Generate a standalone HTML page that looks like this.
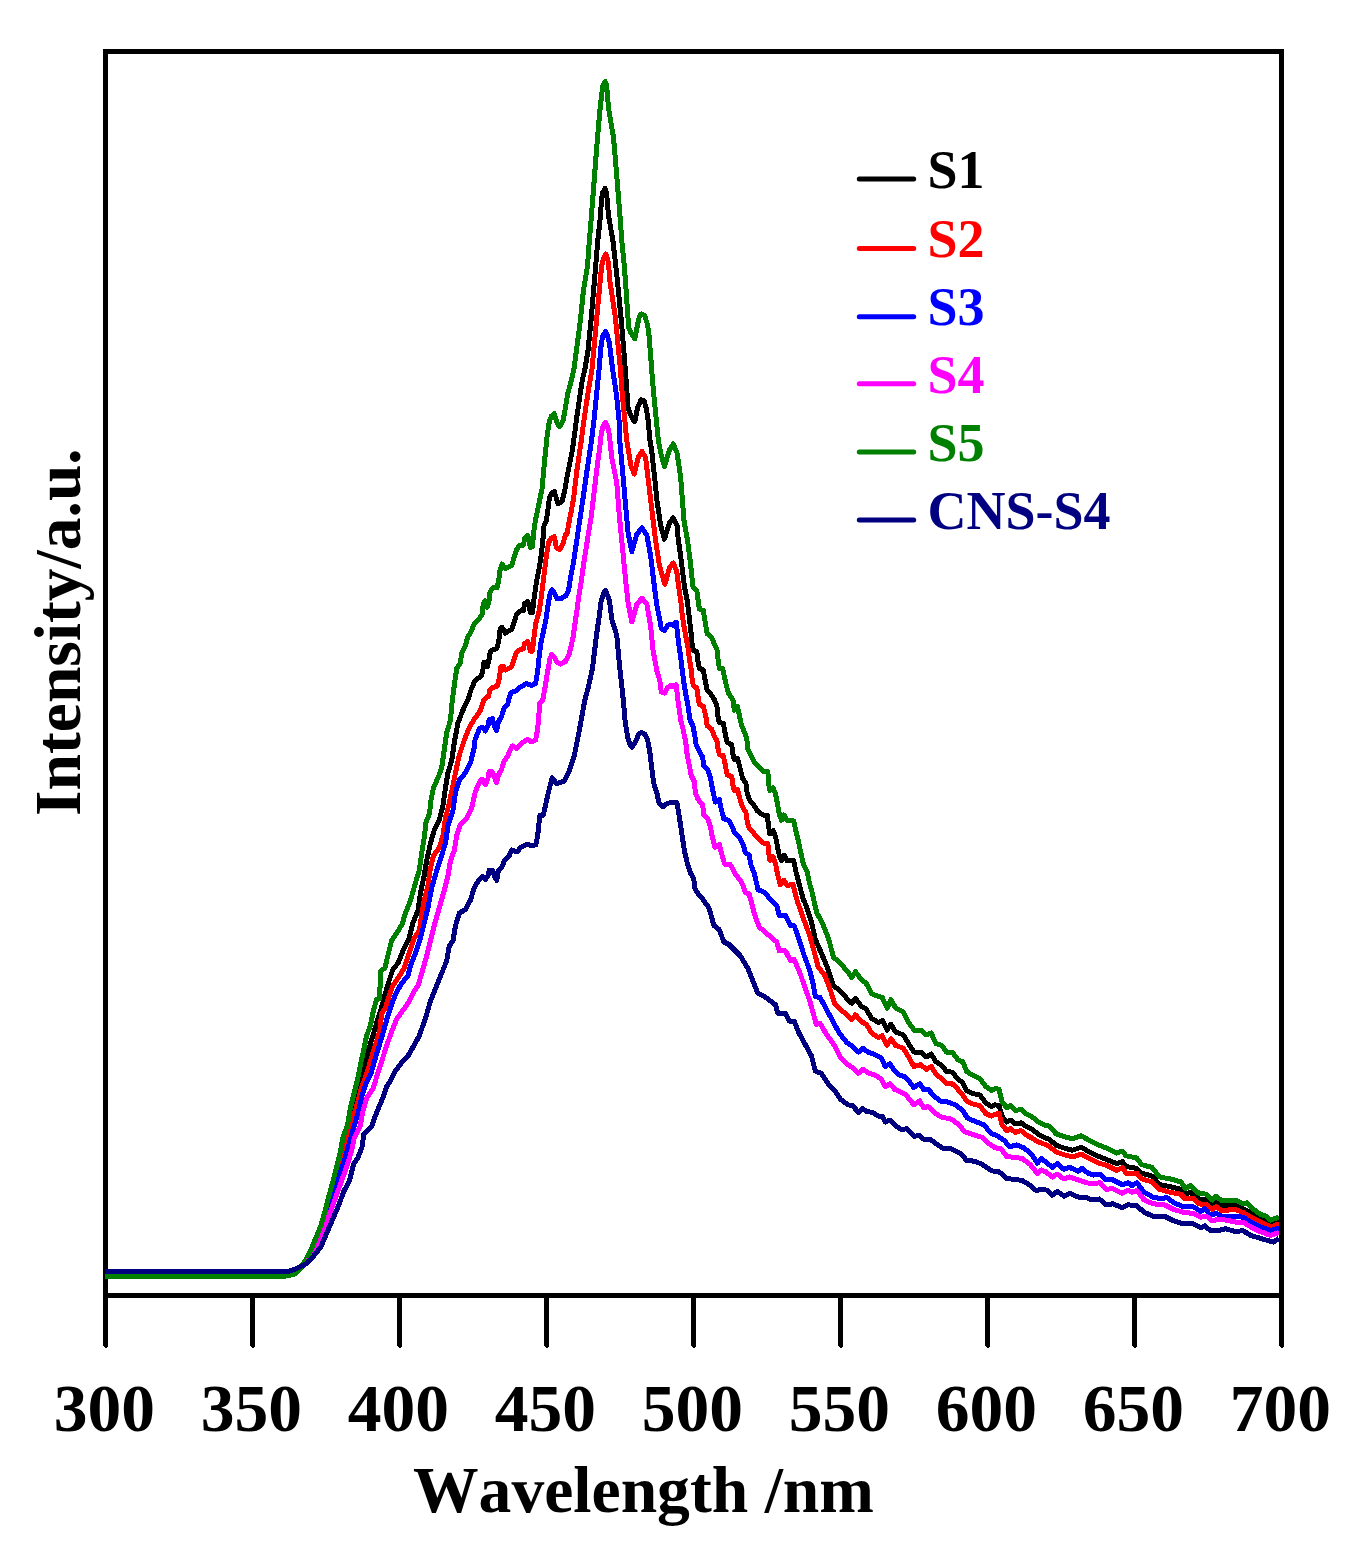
<!DOCTYPE html>
<html lang="en">
<head>
<meta charset="utf-8">
<title>PL spectra</title>
<style>
html,body{margin:0;padding:0;background:#ffffff;}
body{width:1358px;height:1548px;overflow:hidden;position:relative;font-family:"Liberation Serif",serif;}
svg{position:absolute;left:0;top:0;display:block;}
text{font-family:"Liberation Serif",serif;font-weight:bold;font-kerning:none;}
.tk{font-size:67.5px;text-anchor:middle;fill:#000;}
.ax{font-size:65.6px;text-anchor:middle;fill:#000;}
.ay{font-size:65.5px;text-anchor:middle;fill:#000;}
.lg{font-size:54px;text-anchor:start;}
.cv{fill:none;stroke-width:5;stroke-linejoin:round;stroke-linecap:butt;shape-rendering:crispEdges;}
</style>
</head>
<body>
<svg width="1358" height="1548" viewBox="0 0 1358 1548">
<rect x="0" y="0" width="1358" height="1548" fill="#ffffff"/>
<rect x="105.5" y="51.5" width="1176" height="1244" fill="none" stroke="#000" stroke-width="5" shape-rendering="crispEdges"/>
<clipPath id="plot"><rect x="105" y="54" width="1174" height="1239"/></clipPath>
<g clip-path="url(#plot)">
<polyline class="cv" stroke="#000000" points="105.0,1275.0 287.0,1275.0 296.0,1272.5 301.5,1267.0 307.5,1257.5 312.3,1248.0 317.0,1237.0 321.7,1225.5 325.6,1212.0 329.5,1197.0 333.4,1183.0 337.3,1168.0 341.0,1153.0 344.2,1138.0 348.8,1124.0 352.0,1107.0 356.3,1090.0 360.2,1078.6 365.3,1063.6 369.0,1048.5 372.8,1036.0 376.5,1023.5 381.6,1007.2 385.3,993.4 389.1,980.8 392.8,969.6 397.9,963.3 402.9,950.8 409.1,938.2 412.9,923.2 417.9,910.6 420.4,893.1 424.2,875.5 426.7,860.5 430.5,842.9 434.2,830.4 439.2,820.4 443.0,805.3 445.5,787.8 448.0,772.7 451.8,760.2 454.3,742.6 458.0,722.6 463.0,710.0 467.8,700.0 471.0,690.0 474.9,680.9 481.4,675.8 483.3,668.0 483.9,662.2 487.2,666.7 489.1,659.0 490.4,651.2 493.0,649.9 496.9,648.6 498.8,640.9 500.1,629.2 502.0,627.3 505.3,633.1 511.7,629.2 514.3,621.5 516.3,615.0 519.5,611.1 523.4,610.5 524.7,603.4 527.9,601.5 530.5,612.4 532.4,612.4 534.3,596.9 536.3,582.7 538.9,569.8 540.8,558.2 542.7,542.6 544.0,525.8 546.5,520.0 547.7,511.1 549.5,497.5 551.5,493.5 554.2,491.4 556.2,497.5 557.9,503.4 560.0,503.0 562.4,500.3 565.1,488.5 567.4,474.9 570.1,461.4 572.3,450.5 574.6,434.2 576.9,416.2 579.6,398.1 582.3,380.0 584.9,369.2 588.1,349.8 591.3,317.5 594.6,278.7 597.8,240.5 600.6,215.0 601.3,202.0 602.5,193.0 605.0,188.4 606.6,193.0 607.4,202.0 608.4,215.0 612.9,240.5 617.2,278.7 621.0,317.5 624.3,356.2 626.2,382.0 628.1,407.9 630.4,414.3 633.0,419.5 634.8,421.5 637.5,407.9 641.0,399.9 644.0,400.8 646.2,407.9 648.2,420.8 649.9,440.0 651.5,449.0 654.4,475.2 656.9,500.3 660.7,525.4 664.4,539.2 669.4,522.9 673.2,517.9 677.0,525.4 678.1,538.1 680.7,556.2 682.6,571.7 684.6,587.2 687.1,600.1 689.1,615.6 691.0,632.4 692.3,646.7 693.6,650.5 696.8,651.8 698.1,662.2 699.4,668.6 703.3,669.9 705.2,680.3 707.2,690.6 711.1,694.5 714.3,699.6 716.9,706.1 718.4,720.0 719.4,722.6 723.3,723.3 725.2,733.6 727.2,742.6 731.7,744.6 733.0,754.3 734.3,759.5 737.5,758.2 740.1,768.5 742.7,778.8 745.9,782.7 747.2,793.1 749.8,800.2 753.7,804.7 757.5,811.1 762.7,815.0 767.2,815.0 768.5,825.4 769.8,833.8 773.1,830.5 775.6,837.0 777.6,847.3 779.5,856.4 781.5,860.9 784.0,855.1 787.3,860.9 793.7,860.3 795.7,870.6 798.3,880.9 800.8,890.0 803.4,900.0 804.2,900.6 811.0,920.3 815.3,939.1 821.1,952.5 826.8,965.9 833.5,986.1 839.2,989.9 846.9,998.5 851.7,1003.3 855.5,998.5 861.3,1006.2 866.1,1009.0 871.8,1018.6 878.5,1022.4 882.3,1020.5 887.1,1030.1 890.9,1024.3 895.7,1032.0 903.4,1034.9 909.1,1044.5 913.9,1052.1 920.6,1052.1 926.4,1056.9 931.2,1054.0 935.9,1061.7 941.7,1065.5 946.5,1071.3 952.2,1072.2 958.0,1078.9 962.7,1082.7 966.6,1090.4 972.3,1093.3 980.0,1095.2 985.7,1102.8 991.5,1106.7 995.3,1104.8 999.1,1105.7 1002.0,1116.2 1006.8,1122.0 1010.6,1120.1 1015.4,1123.9 1021.1,1122.9 1026.9,1126.8 1032.6,1129.6 1038.4,1134.4 1044.1,1137.3 1049.6,1139.5 1056.3,1145.4 1064.9,1148.3 1072.5,1150.2 1081.2,1147.3 1089.8,1152.1 1097.4,1155.9 1107.0,1159.8 1116.6,1163.6 1122.3,1161.7 1126.2,1166.5 1136.7,1168.4 1141.5,1173.2 1152.0,1176.0 1159.7,1184.7 1170.2,1186.6 1180.7,1189.4 1185.5,1194.2 1190.3,1192.3 1198.9,1199.0 1206.6,1200.0 1212.3,1204.8 1216.1,1201.9 1221.9,1205.7 1235.3,1204.8 1243.0,1208.6 1252.5,1213.4 1260.2,1218.2 1270.7,1222.9 1279.0,1220.1"/>
<polyline class="cv" stroke="#ff0000" points="105.0,1274.5 287.0,1274.5 296.0,1272.0 302.0,1266.5 308.0,1257.0 313.0,1247.5 318.0,1236.0 322.5,1224.5 326.5,1211.0 330.3,1197.0 334.0,1184.0 337.1,1172.3 340.9,1158.9 345.7,1141.7 350.5,1126.4 356.3,1107.2 361.5,1088.0 367.3,1072.0 372.0,1056.0 377.0,1040.0 380.3,1028.5 381.5,1013.4 385.3,1008.4 389.1,995.9 392.8,985.9 397.9,978.3 404.1,968.3 409.1,953.3 414.2,938.2 419.2,930.7 421.7,915.6 424.2,900.6 427.9,885.6 430.5,868.0 433.5,855.5 439.2,847.9 443.0,835.4 445.5,817.9 449.3,802.8 453.0,785.3 455.5,772.7 459.3,755.2 464.3,740.1 469.3,727.6 475.1,718.0 480.1,711.0 483.9,700.0 485.9,697.7 488.5,696.4 489.8,690.0 493.0,687.4 497.5,686.1 499.5,677.1 500.7,666.7 503.3,666.7 505.3,670.0 511.7,666.7 514.3,659.0 516.3,652.5 519.5,649.9 523.4,648.6 524.7,643.5 527.9,641.5 530.5,651.2 532.4,651.2 533.7,639.6 535.6,624.1 538.9,612.4 540.8,600.8 542.7,585.3 544.7,569.8 546.6,554.3 548.6,542.6 551.1,538.1 554.4,536.8 556.3,547.8 559.5,549.8 562.8,543.9 566.0,533.6 567.0,533.6 569.8,518.1 571.7,509.0 573.7,497.5 576.9,470.4 580.9,443.3 584.5,416.2 588.6,389.0 592.0,369.2 596.8,317.5 600.4,278.7 601.7,265.8 603.3,258.5 605.6,253.9 607.6,258.5 608.8,265.8 609.5,278.7 615.4,317.5 620.4,369.2 622.3,395.0 624.9,420.8 626.7,440.0 628.5,451.0 631.0,466.0 634.3,474.0 638.1,457.7 641.9,451.4 645.6,457.7 648.6,482.7 651.9,510.3 655.6,540.4 659.4,565.5 664.9,584.3 669.4,568.0 673.2,563.0 676.8,571.7 678.7,587.2 680.7,600.1 682.0,613.1 683.9,626.0 685.8,636.3 687.8,646.7 689.1,657.0 691.0,668.6 692.3,680.3 693.3,685.4 696.8,688.0 698.1,697.1 699.4,704.8 703.3,706.1 705.2,713.9 706.5,720.0 707.1,725.8 711.7,729.1 714.2,736.2 716.8,740.1 718.1,749.1 719.4,754.9 723.3,755.6 725.2,764.6 727.2,775.0 731.7,776.3 733.0,785.3 734.3,790.5 737.5,789.2 740.1,799.5 742.7,807.3 745.9,812.4 747.2,821.5 749.1,828.0 753.7,833.1 758.8,838.9 764.0,843.5 767.9,843.5 768.9,853.8 769.8,860.3 773.1,857.0 775.6,864.1 777.6,874.5 780.2,884.8 784.0,880.3 787.3,885.5 793.1,884.2 795.0,892.6 797.0,900.0 798.0,903.1 804.5,921.5 809.6,935.3 814.4,952.5 818.2,966.9 824.9,975.5 830.6,990.8 834.5,1003.3 841.2,1010.0 846.9,1014.8 851.7,1019.6 855.5,1014.8 861.3,1021.5 866.1,1024.3 871.8,1033.0 878.5,1037.7 882.3,1035.8 887.1,1045.4 890.9,1038.7 895.7,1045.4 903.4,1048.3 909.1,1057.9 913.9,1066.5 920.6,1064.6 926.4,1069.3 931.2,1066.5 935.9,1074.1 941.7,1078.9 946.5,1083.7 952.2,1083.7 958.0,1089.4 962.7,1095.2 966.6,1100.9 972.3,1103.8 980.0,1105.7 985.7,1113.4 991.5,1116.2 995.3,1114.3 999.1,1113.4 1002.0,1124.9 1006.8,1130.6 1010.6,1128.7 1015.4,1132.5 1021.1,1130.6 1026.9,1135.4 1032.6,1138.3 1038.4,1142.1 1044.1,1144.0 1049.6,1146.6 1056.3,1152.1 1064.9,1155.0 1072.5,1156.9 1081.2,1154.0 1089.8,1158.8 1097.4,1162.6 1107.0,1165.5 1116.6,1170.3 1122.3,1167.4 1126.2,1173.2 1136.7,1173.2 1141.5,1178.9 1152.0,1181.8 1159.7,1189.4 1170.2,1192.3 1180.7,1194.2 1185.5,1199.0 1193.2,1198.1 1198.9,1203.8 1206.6,1204.8 1212.3,1209.5 1216.1,1206.7 1221.9,1210.5 1235.3,1209.5 1243.0,1212.4 1252.5,1218.2 1260.2,1222.0 1270.7,1226.8 1279.0,1223.9"/>
<polyline class="cv" stroke="#0000ff" points="105.0,1273.5 287.5,1273.5 296.5,1271.0 303.0,1266.0 309.5,1257.5 315.0,1248.0 320.0,1236.0 324.5,1222.0 329.5,1204.9 334.2,1191.5 339.0,1176.1 343.8,1162.7 348.6,1145.5 353.4,1128.3 358.2,1113.0 362.0,1095.7 365.5,1085.0 371.0,1073.5 374.5,1061.1 378.5,1048.0 383.0,1033.0 387.2,1018.0 392.5,1002.0 396.6,992.1 401.6,983.4 407.9,975.8 410.4,965.8 415.4,953.3 420.4,938.2 424.2,923.2 427.9,908.1 431.7,888.1 436.7,870.5 441.7,855.5 445.5,842.9 448.0,825.4 453.0,810.3 455.5,792.8 459.3,780.2 465.6,772.7 470.6,762.7 474.1,748.0 475.0,740.1 476.9,734.9 479.5,728.4 482.7,727.4 485.3,731.0 487.9,725.8 489.2,719.4 492.4,718.7 494.4,725.8 496.7,730.4 498.3,722.0 501.5,716.8 504.1,707.8 507.9,703.9 508.5,700.0 511.1,692.6 516.3,690.6 520.8,686.8 526.6,683.5 531.8,685.5 535.6,683.5 537.6,671.9 538.9,659.0 540.8,643.5 543.4,631.8 546.0,618.9 547.9,606.0 549.9,594.3 551.8,589.8 554.4,593.1 557.0,598.9 560.8,598.9 566.0,595.6 568.6,590.5 570.5,577.5 573.1,564.6 575.1,551.7 577.0,538.8 578.9,525.8 580.9,512.9 582.8,500.0 586.7,472.7 591.6,440.0 593.9,420.8 596.5,395.0 599.1,369.2 601.3,343.3 602.8,336.0 605.5,331.6 607.5,336.0 609.4,343.3 612.6,369.2 616.5,395.0 619.1,420.8 619.7,440.0 622.5,470.2 625.6,505.3 628.1,532.9 631.8,551.7 636.8,534.2 641.9,527.9 646.9,535.4 650.6,555.5 653.6,580.5 656.9,605.6 660.0,620.8 661.3,628.6 664.5,630.5 667.8,625.3 671.0,624.0 672.9,625.3 676.2,622.1 677.4,632.4 678.7,644.1 680.7,657.0 682.0,668.6 683.9,682.8 685.8,694.5 687.8,704.8 690.0,720.0 692.9,725.8 694.9,736.2 696.2,745.2 699.4,751.7 702.6,756.9 703.9,765.9 707.8,769.8 710.4,777.5 712.3,787.9 714.2,796.9 715.5,802.1 719.4,799.5 721.4,809.9 723.9,818.9 728.5,820.2 731.7,825.4 734.3,831.8 740.1,838.3 743.3,844.8 745.3,852.5 749.1,855.1 751.1,865.4 754.3,873.2 756.3,882.2 758.2,890.0 762.7,891.3 767.2,895.2 770.5,900.0 776.7,905.6 779.2,915.6 785.4,915.6 790.5,925.7 794.2,925.7 799.6,940.9 803.8,954.5 809.6,969.8 813.4,985.1 815.3,996.6 820.1,997.5 826.8,1010.0 832.5,1020.5 839.2,1033.0 846.9,1042.5 852.7,1046.4 858.4,1052.1 863.2,1048.3 868.0,1052.1 873.7,1054.0 881.4,1057.9 885.2,1066.5 890.0,1063.6 894.8,1071.3 899.6,1075.1 905.3,1077.0 910.1,1082.7 913.9,1087.5 919.7,1083.7 923.5,1089.4 928.3,1089.4 934.0,1096.1 941.7,1101.9 947.4,1101.9 955.1,1104.8 962.7,1110.5 967.5,1118.2 974.2,1121.0 983.8,1124.9 991.5,1133.5 998.2,1136.3 1004.9,1141.1 1009.7,1146.9 1016.4,1145.0 1024.0,1147.8 1031.7,1154.5 1037.5,1163.2 1041.3,1158.4 1045.7,1162.0 1052.4,1167.4 1057.2,1163.6 1063.9,1169.3 1069.7,1167.4 1078.3,1171.3 1082.1,1168.4 1087.9,1173.2 1093.6,1175.1 1100.3,1174.1 1106.1,1179.9 1112.8,1179.9 1122.3,1184.7 1128.1,1182.7 1131.9,1185.6 1136.7,1182.7 1144.3,1192.3 1153.0,1197.1 1162.5,1199.0 1166.4,1197.1 1174.0,1202.8 1183.6,1206.7 1193.2,1206.7 1200.8,1211.5 1204.7,1208.6 1210.4,1215.3 1216.1,1213.4 1221.9,1216.2 1235.3,1216.2 1243.0,1217.2 1250.6,1222.0 1260.2,1226.8 1270.7,1230.6 1279.0,1227.7"/>
<polyline class="cv" stroke="#ff00ff" points="105.0,1273.0 288.0,1273.0 297.0,1270.0 304.0,1264.3 311.0,1256.0 317.0,1245.5 321.8,1235.5 326.6,1222.1 332.3,1206.8 337.1,1193.4 341.9,1180.0 346.7,1166.6 351.5,1151.3 354.3,1137.9 360.1,1126.4 363.0,1111.0 366.8,1097.6 373.2,1088.0 377.5,1074.2 382.4,1059.0 387.3,1043.8 391.6,1031.7 396.5,1019.4 403.0,1010.3 408.4,1002.5 412.9,993.4 417.9,985.9 421.7,973.3 426.7,955.8 430.5,940.7 434.2,925.7 439.2,908.1 444.2,890.6 448.0,875.5 450.5,860.5 454.3,850.4 456.8,835.4 460.5,824.1 466.8,817.9 471.8,807.8 475.0,793.1 476.9,787.9 480.2,781.4 482.1,779.1 485.3,784.7 487.9,778.8 489.2,771.7 492.4,771.7 494.4,777.5 496.7,782.7 498.3,775.0 501.5,769.8 504.1,760.7 507.3,756.9 509.9,750.4 512.5,745.9 517.0,748.5 520.9,743.9 527.3,739.4 531.9,742.0 535.7,740.1 537.7,728.4 539.0,712.9 540.0,702.6 542.7,700.0 545.3,686.1 547.3,673.2 549.9,659.0 551.8,654.4 554.4,657.0 557.0,662.2 560.8,664.1 566.0,660.9 569.2,653.8 571.2,646.0 573.1,637.0 575.1,622.8 577.0,609.9 578.9,595.6 581.5,580.1 583.5,564.6 586.0,549.1 588.6,532.3 591.2,516.8 593.2,500.0 596.7,470.2 600.7,440.0 601.2,433.7 603.0,426.5 605.5,422.4 607.6,426.5 609.2,433.7 609.9,440.0 611.8,457.7 616.8,482.7 619.3,515.3 622.5,547.9 625.6,580.5 628.1,603.1 631.8,621.9 636.8,604.4 641.9,598.1 646.9,604.4 650.6,625.7 653.1,650.8 656.9,670.8 660.0,681.6 661.3,691.9 664.5,693.2 667.8,687.4 671.0,685.4 672.9,686.7 676.2,684.8 677.4,695.8 678.7,706.1 680.7,720.0 683.2,729.7 685.8,742.6 687.1,754.3 689.7,767.2 691.0,775.0 694.2,781.4 695.5,793.1 698.1,799.5 702.6,804.7 703.9,815.0 707.8,818.9 710.4,826.7 712.3,837.0 714.9,847.3 719.4,844.8 722.0,855.1 724.6,864.1 729.8,864.1 733.0,869.3 735.6,874.5 740.7,880.9 743.3,886.1 745.3,892.6 749.1,893.9 750.8,900.0 754.1,913.1 759.1,926.9 767.9,934.5 776.7,942.0 779.2,950.8 785.4,950.8 790.5,960.8 794.2,959.5 800.2,973.7 804.8,987.0 809.6,1000.4 813.4,1013.8 816.3,1024.3 820.1,1023.4 826.8,1034.9 834.5,1045.4 840.2,1056.9 847.9,1064.6 853.6,1068.4 858.4,1073.2 863.2,1069.3 868.9,1073.2 874.7,1075.1 881.4,1078.9 885.2,1086.6 890.0,1083.7 894.8,1089.4 899.6,1091.4 905.3,1094.2 910.1,1100.0 913.9,1104.8 919.7,1100.9 923.5,1107.6 928.3,1106.7 934.0,1112.4 941.7,1117.2 951.3,1119.1 958.9,1124.9 964.7,1131.6 972.3,1134.4 981.9,1137.3 989.5,1144.0 995.3,1147.8 1001.0,1148.8 1006.8,1156.5 1014.4,1157.4 1022.1,1158.4 1029.8,1164.1 1037.5,1173.7 1041.3,1169.9 1045.7,1171.8 1052.4,1177.0 1057.2,1174.1 1063.9,1178.9 1069.7,1177.0 1078.3,1179.9 1086.0,1182.7 1093.6,1183.7 1100.3,1182.7 1106.1,1189.4 1112.8,1188.5 1122.3,1193.3 1128.1,1190.4 1131.9,1192.3 1136.7,1190.4 1144.3,1200.0 1153.0,1203.8 1164.5,1204.8 1174.0,1209.5 1183.6,1212.4 1193.2,1213.4 1200.8,1217.2 1206.6,1216.2 1212.3,1221.0 1218.1,1219.1 1225.7,1220.1 1235.3,1222.0 1243.0,1222.0 1250.6,1226.8 1260.2,1231.6 1270.7,1235.4 1279.0,1232.5"/>
<polyline class="cv" stroke="#008000" points="105.0,1276.0 286.4,1276.0 295.0,1273.8 300.7,1268.0 306.5,1258.5 311.3,1248.9 316.1,1237.4 320.8,1225.9 324.7,1212.5 328.5,1197.2 332.3,1183.8 336.2,1168.5 340.0,1153.2 342.9,1137.9 347.6,1124.4 350.5,1107.2 354.9,1090.0 357.7,1078.6 360.7,1063.6 364.0,1048.5 366.5,1036.0 370.3,1026.0 373.3,1010.9 376.5,999.6 379.5,998.4 380.8,970.8 384.8,968.3 387.8,955.8 391.6,940.7 396.6,933.2 402.1,924.4 405.4,913.1 410.4,900.6 415.4,883.0 419.2,870.5 421.7,853.0 424.2,837.9 425.9,822.9 429.7,812.8 430.5,802.8 433.5,787.8 438.0,777.7 441.7,767.7 444.2,750.2 446.7,732.6 450.5,720.0 452.3,700.0 454.9,680.9 456.8,668.0 460.0,664.1 462.0,652.5 465.2,646.0 467.8,637.0 471.0,631.8 474.2,624.1 478.8,618.9 482.0,615.0 483.3,603.4 485.2,600.8 487.2,607.3 489.8,598.2 490.0,591.8 493.0,587.9 496.9,587.9 498.8,580.1 500.1,569.8 502.0,564.0 505.3,568.5 511.7,565.3 514.3,556.9 516.9,549.1 519.5,545.2 523.4,545.2 524.7,538.1 527.9,535.5 530.5,547.8 532.4,546.5 533.7,532.3 535.6,519.4 537.2,512.0 542.1,488.5 544.5,461.4 547.3,434.2 549.5,420.7 551.5,416.0 554.2,413.6 556.5,420.7 558.0,425.0 559.2,426.5 560.8,425.0 563.3,419.8 565.5,407.1 567.8,393.6 571.4,380.0 573.9,369.2 577.4,343.3 580.7,317.5 583.3,291.7 587.5,265.8 589.4,240.0 591.5,215.0 594.5,176.2 597.5,137.5 599.8,111.7 601.5,96.2 602.8,86.0 605.2,81.5 606.8,86.0 607.3,96.2 609.1,111.7 613.5,137.5 616.8,176.2 619.9,215.0 621.7,240.0 624.3,265.8 626.2,291.7 627.5,311.0 628.7,327.8 631.0,333.0 634.9,338.8 637.5,325.2 639.4,316.2 641.6,313.9 644.6,315.5 646.9,322.7 648.6,330.4 650.7,356.2 652.6,382.1 655.1,407.9 658.3,440.0 660.7,452.7 664.4,466.4 669.4,450.2 673.2,443.9 677.0,452.7 680.7,477.7 683.9,520.0 687.8,542.0 690.4,562.6 692.3,580.7 693.0,587.2 696.8,590.4 698.1,600.1 699.4,609.2 703.3,610.5 705.2,622.1 707.2,633.7 711.7,637.6 714.3,644.1 716.9,649.2 718.2,660.9 719.5,668.6 722.7,668.6 724.6,677.7 726.6,686.7 728.5,693.2 733.0,700.0 734.3,710.3 737.5,706.5 739.4,715.5 741.4,724.6 744.0,731.0 746.6,737.5 747.9,749.1 750.4,754.3 754.3,762.0 758.8,767.2 764.0,771.7 767.9,771.7 768.5,782.7 769.8,790.5 773.1,787.9 775.6,794.3 777.6,804.7 779.5,815.0 781.5,820.2 784.0,815.0 787.3,820.8 793.7,820.8 795.7,830.5 798.3,840.9 800.8,852.5 803.4,864.1 807.3,871.9 809.2,882.2 811.8,891.3 813.8,900.0 816.8,913.1 822.0,922.0 828.7,939.1 833.5,957.3 839.2,962.1 846.9,970.7 851.7,977.4 855.5,971.7 861.3,979.4 866.1,983.2 871.8,993.7 878.5,996.6 882.3,997.5 887.1,1008.1 890.9,999.5 895.7,1008.1 903.4,1011.9 909.1,1023.4 914.9,1031.0 920.6,1030.1 926.4,1034.9 931.2,1033.0 935.9,1043.5 941.7,1045.4 946.5,1052.1 952.2,1052.1 958.0,1059.8 962.7,1061.7 966.6,1071.3 972.3,1075.1 980.0,1078.9 985.7,1086.6 991.5,1090.4 995.3,1088.5 999.1,1089.4 1002.0,1101.9 1006.8,1107.6 1010.6,1105.7 1015.4,1110.5 1021.1,1109.5 1026.9,1114.3 1032.6,1117.2 1038.4,1122.0 1044.1,1124.9 1049.6,1126.3 1056.3,1133.9 1064.9,1136.8 1072.5,1138.7 1081.2,1135.8 1089.8,1140.6 1097.4,1144.5 1107.0,1148.3 1116.6,1153.1 1122.3,1151.2 1126.2,1155.9 1136.7,1157.9 1141.5,1164.6 1152.0,1167.4 1159.7,1177.0 1170.2,1178.9 1180.7,1181.8 1185.5,1188.5 1190.3,1185.6 1198.9,1193.3 1206.6,1194.2 1212.3,1200.0 1216.1,1196.1 1221.9,1200.9 1235.3,1200.0 1243.0,1203.8 1246.8,1202.8 1252.5,1208.6 1260.2,1214.3 1265.9,1216.2 1270.7,1220.1 1279.0,1217.2"/>
<polyline class="cv" stroke="#000080" points="105.0,1271.5 288.3,1271.5 297.9,1268.0 305.5,1264.2 313.2,1256.6 320.8,1247.0 326.6,1233.6 332.3,1220.2 338.1,1206.8 343.8,1191.5 349.6,1180.0 353.4,1164.7 358.2,1157.0 362.0,1147.4 363.9,1134.0 371.6,1126.4 376.4,1113.0 382.1,1099.6 386.9,1086.2 390.3,1081.2 395.3,1071.1 402.9,1061.1 407.9,1056.1 412.9,1047.3 419.2,1036.0 425.4,1018.5 430.5,1000.9 435.5,988.4 441.7,973.3 446.7,960.8 449.3,945.7 453.0,940.7 455.5,925.7 459.3,913.1 465.6,909.4 470.5,900.0 473.1,891.3 475.0,886.1 478.9,880.3 482.1,876.4 485.3,879.6 487.9,875.8 489.2,870.0 492.4,870.0 494.4,875.8 496.7,880.3 498.3,870.6 502.1,866.7 504.7,860.3 509.2,855.7 511.8,849.9 517.0,851.9 520.9,847.3 527.3,844.1 531.9,846.0 535.7,844.8 537.7,835.7 539.0,822.8 540.0,815.0 543.3,815.3 548.3,792.8 552.1,777.7 556.6,783.7 564.1,781.1 569.1,771.1 574.2,756.1 579.2,731.0 584.8,700.0 588.6,686.1 592.5,668.0 594.4,652.5 596.4,635.7 599.0,618.0 601.2,600.8 603.2,594.5 605.2,590.4 607.2,594.5 609.4,600.8 612.0,620.0 616.8,635.7 619.3,663.3 623.3,700.0 625.2,722.0 627.8,737.5 630.0,745.0 631.7,747.2 633.5,745.0 635.5,741.4 638.8,734.2 641.4,732.6 644.6,733.9 647.6,740.1 649.8,751.7 651.7,767.2 653.6,782.7 656.9,793.1 658.8,802.1 661.0,805.5 663.3,806.6 667.2,803.4 670.4,802.7 676.9,802.7 678.6,812.4 680.4,824.1 682.7,839.6 684.7,852.5 687.9,865.4 690.5,873.2 693.7,878.4 695.0,888.7 698.2,893.9 703.4,900.0 709.0,908.1 714.0,925.7 719.0,929.4 724.0,942.0 729.0,944.5 740.3,955.8 747.8,968.3 752.8,980.8 757.9,993.4 765.4,997.1 775.4,1004.7 777.9,1013.4 785.4,1013.4 789.2,1021.0 794.2,1021.0 799.2,1033.5 805.5,1045.0 811.5,1055.9 815.3,1071.0 821.1,1073.2 828.7,1084.7 835.4,1091.4 840.2,1099.0 847.9,1104.8 852.7,1105.7 858.4,1112.4 862.2,1108.6 867.0,1111.5 872.8,1112.4 878.5,1116.2 882.3,1116.2 885.2,1122.0 890.0,1120.1 895.7,1125.8 901.5,1129.6 907.2,1128.7 913.9,1136.4 919.7,1135.4 923.5,1139.2 930.2,1139.2 937.9,1145.0 943.6,1148.8 951.3,1148.8 960.8,1153.6 966.6,1160.3 974.2,1161.2 981.9,1164.1 991.5,1170.8 999.1,1171.8 1006.8,1178.5 1014.4,1179.4 1022.1,1180.4 1029.8,1185.2 1036.5,1190.9 1041.2,1189.0 1047.7,1190.4 1052.4,1195.2 1057.2,1191.4 1063.9,1196.1 1069.7,1193.3 1078.3,1197.1 1086.0,1197.1 1091.7,1200.0 1099.4,1199.0 1106.1,1204.8 1112.8,1203.8 1122.3,1207.6 1128.1,1204.8 1136.7,1205.7 1144.3,1212.4 1153.0,1216.2 1164.5,1216.2 1174.0,1221.0 1183.6,1223.9 1193.2,1223.9 1200.8,1227.7 1204.7,1225.8 1210.4,1230.6 1218.1,1230.6 1225.7,1228.7 1235.3,1231.6 1243.0,1230.6 1250.6,1235.4 1260.2,1238.3 1269.8,1241.1 1273.6,1242.1 1279.0,1238.3"/>
</g>
<path d="M103.0 1295 V1346 L105.5 1348.5 L108.0 1346 V1295 Z" fill="#000" shape-rendering="crispEdges"/>
<path d="M250.0 1295 V1346 L252.5 1348.5 L255.0 1346 V1295 Z" fill="#000" shape-rendering="crispEdges"/>
<path d="M397.0 1295 V1346 L399.5 1348.5 L402.0 1346 V1295 Z" fill="#000" shape-rendering="crispEdges"/>
<path d="M544.0 1295 V1346 L546.5 1348.5 L549.0 1346 V1295 Z" fill="#000" shape-rendering="crispEdges"/>
<path d="M691.0 1295 V1346 L693.5 1348.5 L696.0 1346 V1295 Z" fill="#000" shape-rendering="crispEdges"/>
<path d="M838.0 1295 V1346 L840.5 1348.5 L843.0 1346 V1295 Z" fill="#000" shape-rendering="crispEdges"/>
<path d="M985.0 1295 V1346 L987.5 1348.5 L990.0 1346 V1295 Z" fill="#000" shape-rendering="crispEdges"/>
<path d="M1132.0 1295 V1346 L1134.5 1348.5 L1137.0 1346 V1295 Z" fill="#000" shape-rendering="crispEdges"/>
<path d="M1279.0 1295 V1346 L1281.5 1348.5 L1284.0 1346 V1295 Z" fill="#000" shape-rendering="crispEdges"/>
<text class="tk" x="104.3" y="1431.3">300</text>
<text class="tk" x="251.3" y="1431.3">350</text>
<text class="tk" x="398.3" y="1431.3">400</text>
<text class="tk" x="545.3" y="1431.3">450</text>
<text class="tk" x="692.3" y="1431.3">500</text>
<text class="tk" x="839.3" y="1431.3">550</text>
<text class="tk" x="986.3" y="1431.3">600</text>
<text class="tk" x="1133.3" y="1431.3">650</text>
<text class="tk" x="1280.3" y="1431.3">700</text>
<text class="ax" x="643.5" y="1512">Wavelength /nm</text>
<text class="ay" transform="translate(80.2,632.1) rotate(-90)" x="0" y="0">Intensity/a.u.</text>
<line x1="859.3" y1="179.0" x2="913.7" y2="179.0" stroke="#000000" stroke-width="5" stroke-linecap="round"/>
<text class="lg" x="927.5" y="188.4" fill="#000000">S1</text>
<line x1="859.3" y1="248.6" x2="913.7" y2="248.6" stroke="#ff0000" stroke-width="5" stroke-linecap="round"/>
<text class="lg" x="927.5" y="257.0" fill="#ff0000">S2</text>
<line x1="859.3" y1="316.7" x2="913.7" y2="316.7" stroke="#0000ff" stroke-width="5" stroke-linecap="round"/>
<text class="lg" x="927.5" y="325.2" fill="#0000ff">S3</text>
<line x1="859.3" y1="383.7" x2="913.7" y2="383.7" stroke="#ff00ff" stroke-width="5" stroke-linecap="round"/>
<text class="lg" x="927.5" y="392.6" fill="#ff00ff">S4</text>
<line x1="859.3" y1="452.0" x2="913.7" y2="452.0" stroke="#008000" stroke-width="5" stroke-linecap="round"/>
<text class="lg" x="927.5" y="460.6" fill="#008000">S5</text>
<line x1="859.3" y1="520.0" x2="913.7" y2="520.0" stroke="#000080" stroke-width="5" stroke-linecap="round"/>
<text class="lg" x="927.5" y="528.8" fill="#000080">CNS-S4</text>
</svg>
</body>
</html>
